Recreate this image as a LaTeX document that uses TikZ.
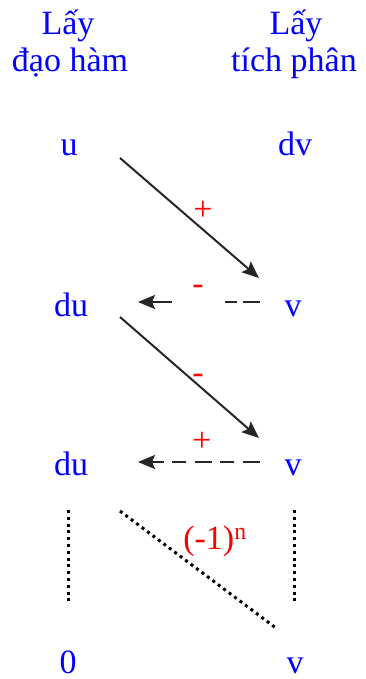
\documentclass[tikz,border=0pt]{standalone}
\usepackage{fontspec}
\setmainfont{Liberation Serif}
\newfontfamily\vnserif{Liberation Serif}
\usetikzlibrary{arrows.meta}

\begin{document}
\begin{tikzpicture}[x=1pt,y=-1pt,font=\vnserif\fontsize{34}{37}\selectfont,
  term/.style={text=blue,anchor=base,inner sep=0pt},
  sgn/.style={text=red,anchor=base,inner sep=0pt},
  arr/.style={draw=black!85,line width=2pt,-{Stealth[length=17pt,width=14pt,inset=3pt]}},
  dotline/.style={draw=black,line width=3pt,dash pattern=on 3pt off 3.8pt}]
\useasboundingbox (0,0) rectangle (365,679);
% headers
\node[term] (hd1) at (68,35) {Lấy};\node[term] (hd2) at (70,72) {đạo hàm};
\node[term] (hi1) at (296,35) {Lấy};\node[term] (hi2) at (294,72) {tích phân};
% rows
\node[term] (u) at (69,156) {u};\node[term] (dv) at (295,156) {dv};
\foreach \n/\y in {1/316,2/475}{\node[term] (du\n) at (71,\y) {du};\node[term] (v\n) at (293,\y) {v};}
\node[term] (zero) at (68,673) {0};\node[term] (vn) at (295,673) {v};
% arrow ends
\coordinate (a1) at (120,158);\coordinate (b1) at (259,278);
\coordinate (a2) at (260,302);\coordinate (b2) at (138,302);
\coordinate (a3) at (120,317);\coordinate (b3) at (259,438);
\coordinate (a4) at (260,462);\coordinate (b4) at (138,462);
\draw[arr] (a1) -- (b1);
\draw[arr,dash pattern=on 17pt off 6pt on 12pt off 53pt on 40pt] (a2) -- (b2);
\draw[arr] (a3) -- (b3);
\draw[arr,dash pattern=on 17pt off 9pt on 14pt off 8pt] (a4) -- (b4);
\node[sgn] (s1) at (203,220) {+};\node[sgn] (s2) at (198,294) {-};
\node[sgn] (s3) at (198,383) {-};\node[sgn] (s4) at (202,451) {+};
% dotted part
\coordinate (l1) at (68,510);\coordinate (l2) at (68,602);
\coordinate (r1) at (294,510);\coordinate (r2) at (294,602);
\coordinate (d1) at (120,511);\coordinate (d2) at (276,628);
\draw[dotline] (l1) -- (l2);\draw[dotline] (r1) -- (r2);\draw[dotline] (d1) -- (d2);
\node[sgn] (sn) at (215,549) {(-1)\textsuperscript{n}};
\end{tikzpicture}
\end{document}
